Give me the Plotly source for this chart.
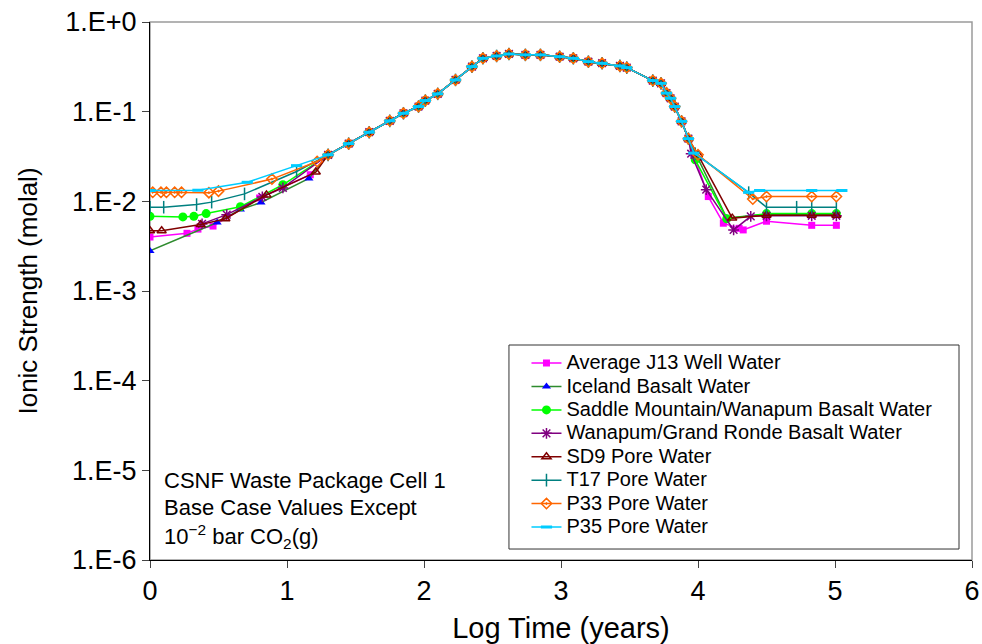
import plotly.graph_objects as go

# ---- data (log10 years, ionic strength molal) ----
mid_x = [1.30, 1.45, 1.60, 1.75, 1.85, 1.96, 2.01, 2.10, 2.23, 2.35, 2.43, 2.53, 2.62, 2.74,
         2.85, 2.99, 3.09, 3.20, 3.30, 3.43, 3.48, 3.67, 3.73, 3.77, 3.80, 3.83, 3.88, 3.93]
mid_y = [0.033, 0.044, 0.059, 0.079, 0.096, 0.114, 0.133, 0.158, 0.226, 0.318, 0.394, 0.418, 0.44, 0.43,
         0.43, 0.41, 0.394, 0.361, 0.347, 0.324, 0.31, 0.222, 0.207, 0.161, 0.141, 0.114, 0.078, 0.050]

j13_head_x = [0.0, 0.27, 0.35, 0.46, 0.80, 1.17]
j13_head_y = [0.0040, 0.0044, 0.0049, 0.0053, 0.0109, 0.0198]
j13_tail_x = [4.075, 4.185, 4.30, 4.33, 4.50, 4.83, 5.01]
j13_tail_y = [0.0113, 0.0057, 0.0050, 0.0048, 0.0060, 0.0054, 0.0054]

ice_head_x = [0.0, 0.49, 0.66, 0.81, 1.16]
ice_head_y = [0.0028, 0.0058, 0.0081, 0.0097, 0.018]
ice_tail_x = [4.00, 4.21, 4.50, 4.83, 5.01]
ice_tail_y = [0.030, 0.0065, 0.0072, 0.0072, 0.0072]

sad_head_x = [0.0, 0.24, 0.32, 0.41, 0.66, 0.97]
sad_head_y = [0.0068, 0.0067, 0.0068, 0.0073, 0.0087, 0.0153]
sad_tail_x = [3.98, 4.21, 4.50, 4.83, 5.01]
sad_tail_y = [0.029, 0.0064, 0.0073, 0.0073, 0.0073]

wan_head_x = [0.38, 0.56, 0.82, 0.97]
wan_head_y = [0.0056, 0.0071, 0.0112, 0.0141]
wan_tail_x = [3.95, 4.06, 4.26, 4.385, 4.50, 4.83, 5.01]
wan_tail_y = [0.034, 0.0135, 0.0048, 0.0068, 0.0069, 0.0069, 0.0069]

sd9_head_x = [0.0, 0.085, 0.37, 0.55, 0.85, 1.21]
sd9_head_y = [0.0047, 0.0047, 0.0055, 0.0064, 0.0118, 0.0212]
sd9_tail_x = [4.00, 4.25, 4.50, 4.83, 5.01]
sd9_tail_y = [0.033, 0.0065, 0.0070, 0.0070, 0.0070]

t17_head_x = [0.0, 0.10, 0.34, 0.45, 0.69, 1.07]
t17_head_y = [0.0086, 0.0086, 0.0092, 0.0098, 0.0121, 0.0215]
t17_tail_x = [3.98, 4.37, 4.50, 4.72, 4.83, 5.01]
t17_tail_y = [0.034, 0.0125, 0.0086, 0.0086, 0.0086, 0.0086]

p33_head_x = [0.02, 0.08, 0.12, 0.18, 0.23, 0.43, 0.50, 0.89, 1.22]
p33_head_y = [0.0126, 0.0126, 0.0126, 0.0126, 0.0126, 0.0125, 0.0130, 0.0177, 0.0278]
p33_tail_x = [4.00, 4.40, 4.50, 4.83, 5.01]
p33_tail_y = [0.033, 0.0106, 0.0113, 0.0113, 0.0113]

p35_head_x = [0.0, 0.35, 0.71, 1.07]
p35_head_y = [0.0132, 0.0133, 0.0163, 0.025]
p35_tail_x = [3.97, 4.37, 4.45, 4.83, 5.05]
p35_tail_y = [0.0345, 0.0126, 0.0132, 0.0132, 0.0132]

y_tickvals = [1e-6, 1e-5, 1e-4, 1e-3, 1e-2, 1e-1, 1]
y_ticktext = ["1.E-6", "1.E-5", "1.E-4", "1.E-3", "1.E-2", "1.E-1", "1.E+0"]
x_tickvals = [0, 1, 2, 3, 4, 5, 6]

series = [
    ("Average J13 Well Water", j13_head_x, j13_head_y, j13_tail_x, j13_tail_y,
     "#FF00FF", dict(symbol="square", size=7, color="#FF00FF")),
    ("Iceland Basalt Water", ice_head_x, ice_head_y, ice_tail_x, ice_tail_y,
     "#2E8B2E", dict(symbol="triangle-up", size=8, color="#0000FF")),
    ("Saddle Mountain/Wanapum Basalt Water", sad_head_x, sad_head_y, sad_tail_x, sad_tail_y,
     "#00FF00", dict(symbol="circle", size=9, color="#00FF00")),
    ("Wanapum/Grand Ronde Basalt Water", wan_head_x, wan_head_y, wan_tail_x, wan_tail_y,
     "#800080", dict(symbol="asterisk-open", size=9, color="#800080", line=dict(color="#800080", width=1.5))),
    ("SD9 Pore Water", sd9_head_x, sd9_head_y, sd9_tail_x, sd9_tail_y,
     "#800000", dict(symbol="triangle-up-open", size=8, color="#800000", line=dict(color="#800000", width=1.5))),
    ("T17 Pore Water", t17_head_x, t17_head_y, t17_tail_x, t17_tail_y,
     "#008080", dict(symbol="line-ns-open", size=9, color="#008080", line=dict(color="#008080", width=1.5))),
    ("P33 Pore Water", p33_head_x, p33_head_y, p33_tail_x, p33_tail_y,
     "#FF6600", dict(symbol="diamond-open-dot", size=8, color="#FF6600", line=dict(color="#FF6600", width=1.5))),
    ("P35 Pore Water", p35_head_x, p35_head_y, p35_tail_x, p35_tail_y,
     "#00CCFF", dict(symbol="line-ew-open", size=8, color="#00CCFF", line=dict(color="#00CCFF", width=3))),
]

fig = go.Figure()
for name, hx, hy, tx, ty, lc, mk in series:
    fig.add_trace(go.Scatter(
        x=hx + mid_x + tx, y=hy + mid_y + ty,
        name='<span style="font-size:20px">' + name + '</span>', mode="lines+markers",
        line=dict(color=lc, width=1.5), marker=mk,
    ))

# note text, one annotation per line (tight line spacing as in the original)
note_lines = ["CSNF Waste Package Cell 1", "Base Case Values Except",
              "10<sup>\u22122</sup> bar CO<sub>2</sub>(g)"]
note_y = [0.148, 0.097, 0.044]
for t, yy in zip(note_lines, note_y):
    fig.add_annotation(x=0.015, y=yy, xref="paper", yref="paper", xanchor="left", yanchor="middle",
                       text=t, showarrow=False, align="left", font=dict(size=22, color="black"))

# plot frame (gray top/right) and legend box
fig.add_shape(type="rect", xref="paper", yref="paper", x0=0, x1=1, y0=0, y1=1,
              line=dict(color="#9a9a9a", width=1.5), layer="below")
fig.add_shape(type="rect", xref="paper", yref="paper", x0=0.4367, x1=0.9842, y0=0.0204, y1=0.3996,
              line=dict(color="#333333", width=1), fillcolor="white", layer="below")

fig.update_layout(
    width=982, height=644,
    margin=dict(l=150, r=10, t=22, b=84),
    paper_bgcolor="white", plot_bgcolor="white",
    font=dict(family="Arial, Liberation Sans, sans-serif", color="black"),
    showlegend=True,
    legend=dict(x=0.458, y=0.397, xanchor="left", yanchor="top", bgcolor="rgba(0,0,0,0)",
                borderwidth=0, font=dict(size=15.7), tracegroupgap=0, itemwidth=30),
)
fig.update_xaxes(range=[0, 6], tickvals=x_tickvals, ticks="outside", ticklen=7, automargin=False,
                 showline=True, linecolor="black", linewidth=1, showgrid=False, zeroline=False,
                 tickfont=dict(size=27), title=dict(text="Log Time (years)", font=dict(size=29), standoff=12))
fig.update_yaxes(type="log", range=[-6, 0], tickvals=y_tickvals, ticktext=y_ticktext, automargin=False,
                 ticks="outside", ticklen=7, showline=True, linecolor="black", linewidth=1,
                 showgrid=False, zeroline=False, tickfont=dict(size=27),
                 title=dict(text="Ionic Strength (molal)", font=dict(size=26), standoff=20))

fig.write_html("out.html", config={"displayModeBar": False},
               post_script="document.body.style.margin='0';document.body.style.padding='0';"
                           "document.documentElement.style.overflow='hidden';")
